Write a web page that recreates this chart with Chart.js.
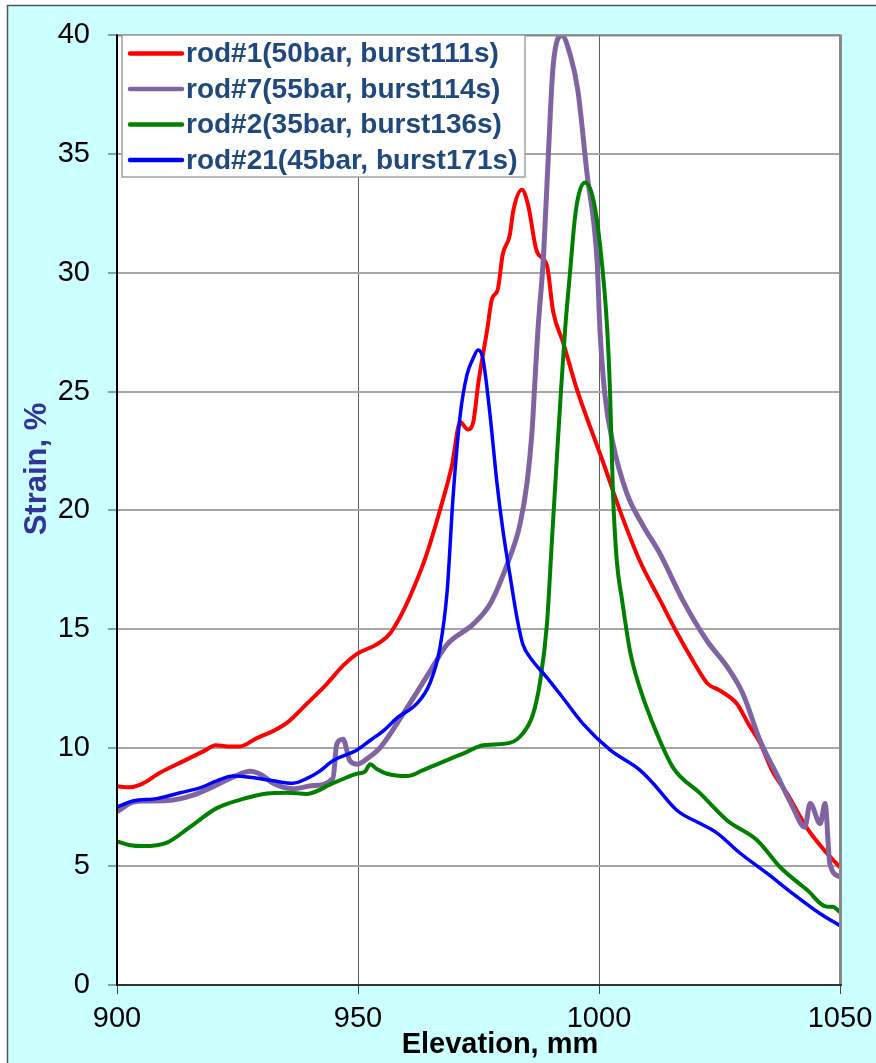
<!DOCTYPE html>
<html>
<head>
<meta charset="utf-8">
<script src="https://cdn.jsdelivr.net/npm/chart.js@4"></script>
<style>
    html, body { margin: 0; padding: 0; background: #ffffff; }
    #wrap { width: 876px; height: 1063px; }
</style>
</head>
<body>
<div id="wrap"><canvas id="strainChart" width="876" height="1063"></canvas></div>
<script>
// elevation (mm) / strain (%) profiles per rod
const rod1Elev = [900, 902.5, 905, 909, 914, 918, 920.5, 923, 925.5, 929, 932.4, 935.3, 939.4, 943.6, 946.9, 949.8, 953.9, 956.6, 959, 961.5, 964, 967, 969.5, 971.2, 972.8, 973.9, 975, 976.8, 977.8, 979, 980, 981.5, 982.2, 984, 985.3, 987.1, 989.2, 990.5, 992.5, 995.4, 998, 1000.8, 1004.5, 1008.5, 1012.7, 1016, 1019.5, 1022.5, 1025.1, 1028.6, 1031, 1033.4, 1036, 1039, 1043.2, 1047.3, 1050];
const rod1Strain = [8.37, 8.33, 8.45, 8.95, 9.45, 9.85, 10.1, 10.05, 10.05, 10.4, 10.7, 11.05, 11.85, 12.7, 13.45, 13.95, 14.35, 14.8, 15.6, 16.7, 18.0, 20.0, 21.9, 23.7, 23.4, 23.7, 25.4, 27.6, 28.9, 29.3, 30.75, 31.6, 32.6, 33.5, 32.85, 30.9, 30.3, 28.35, 27.1, 25.1, 23.6, 22.05, 19.9, 17.85, 16.2, 14.9, 13.65, 12.7, 12.4, 11.85, 11.0, 10.2, 9.0, 8.07, 6.6, 5.55, 4.96];

const rod7Elev = [900, 903.3, 906, 910.4, 915.8, 921.4, 924.5, 927.6, 930, 932.4, 936.5, 940.7, 944.8, 945.6, 946.9, 948.3, 949.8, 952, 954.6, 959.3, 964.9, 968.5, 973.9, 977.4, 980.9, 983.6, 985.1, 986.1, 986.7, 987.3, 988.5, 989.5, 990.5, 992.3, 994, 995.6, 997.5, 999.6, 1000.2, 1001.2, 1002.9, 1005.8, 1009, 1012.7, 1017.4, 1022.4, 1026.6, 1029.9, 1033.4, 1036.8, 1040.2, 1042.7, 1043.8, 1045.9, 1046.9, 1047.9, 1050];
const rod7Strain = [7.3, 7.7, 7.75, 7.77, 8.0, 8.5, 8.8, 9.0, 8.85, 8.5, 8.27, 8.4, 8.7, 10.15, 10.35, 9.45, 9.3, 9.55, 10.0, 11.4, 13.2, 14.35, 15.2, 16.05, 17.7, 19.4, 21.2, 23.3, 25.4, 27.5, 30.75, 35.0, 38.75, 40, 39.2, 37.7, 34.2, 30.5, 27.6, 24.9, 22.8, 20.7, 19.4, 18.15, 16.2, 14.5, 13.4, 12.25, 10.3, 8.9, 7.5, 6.65, 7.65, 6.8, 7.65, 5.1, 4.55];

const rod2Elev = [900, 902.5, 905.4, 910.4, 915.1, 920.7, 925.5, 931.1, 935.3, 939.4, 944.8, 949.8, 951.5, 952.5, 953.9, 956, 960.2, 963.5, 967, 971.8, 976, 981.5, 984.2, 986.3, 987.8, 989.2, 990.2, 991.2, 992.1, 993, 994, 995, 995.8, 997.1, 998.8, 1000.2, 1001.7, 1002.3, 1002.9, 1003.7, 1004.8, 1006.4, 1008.5, 1012, 1015.4, 1021, 1026.6, 1032.8, 1037.6, 1043.2, 1047.3, 1048.5, 1050];
const rod2Strain = [6.05, 5.9, 5.85, 6.0, 6.65, 7.45, 7.8, 8.07, 8.1, 8.05, 8.5, 8.9, 9.0, 9.3, 9.1, 8.9, 8.8, 9.05, 9.35, 9.75, 10.1, 10.2, 10.6, 11.4, 12.8, 15.2, 18.6, 22.0, 25.0, 27.7, 30.05, 32.3, 33.3, 33.8, 33.1, 31.2, 27.65, 24.9, 20.7, 17.85, 16.2, 14.1, 12.5, 10.6, 9.15, 8.07, 6.93, 6.1, 4.96, 4.0, 3.3, 3.3, 3.07];

const rod21Elev = [900, 903.3, 908.3, 913.1, 917.2, 920.7, 924.1, 927.6, 932.4, 936.5, 939.4, 942, 944.8, 949.8, 952.5, 955.5, 958.1, 962.2, 964.9, 967, 968.5, 969.7, 971.2, 972.6, 973.9, 974.9, 975.9, 977.4, 978.8, 980.1, 981.5, 983, 984.2, 985.7, 989.2, 992.5, 996.7, 1002.3, 1008.5, 1011.2, 1016.2, 1021, 1024.5, 1029.3, 1034.9, 1040.2, 1045.9, 1050];
const rod21Strain = [7.5, 7.75, 7.85, 8.1, 8.3, 8.6, 8.8, 8.75, 8.6, 8.5, 8.7, 9.0, 9.45, 9.9, 10.3, 10.75, 11.25, 11.85, 12.7, 14.2, 16.6, 20.5, 24.0, 25.7, 26.4, 26.75, 26.4, 24.0, 21.2, 19.1, 17.3, 15.45, 14.35, 13.8, 12.95, 12.1, 11.0, 9.9, 9.05, 8.5, 7.35, 6.8, 6.4, 5.55, 4.7, 3.85, 3.0, 2.5];

const seriesLabels = ['rod#1(50bar, burst111s)', 'rod#7(55bar, burst114s)', 'rod#2(35bar, burst136s)', 'rod#21(45bar, burst171s)'];
const elevationTicks = [900, 950, 1000, 1050];
const strainTicks = [0, 5, 10, 15, 20, 25, 30, 35, 40];

const FONT = "'Liberation Sans', Arial, sans-serif";

function toPoints(xs, ys) {
    return xs.map((x, i) => ({ x: x, y: ys[i] }));
}

function lineSet(label, points, color, width, order) {
    return {
        label: label,
        data: points,
        borderColor: color,
        backgroundColor: color,
        borderWidth: width,
        pointRadius: 0,
        cubicInterpolationMode: 'monotone',
        borderJoinStyle: 'round',
        borderCapStyle: 'round',
        fill: false,
        order: order
    };
}

// background, plot frame, axis titles and the boxed legend
const chartDecor = {
    id: 'chartDecor',
    beforeDraw(chart) {
        const ctx = chart.ctx;
        const a = chart.chartArea;
        ctx.save();
        ctx.fillStyle = '#ffffff';
        ctx.fillRect(0, 0, chart.width, chart.height);
        ctx.fillStyle = '#CCFFFF';
        ctx.fillRect(7, 5, chart.width - 7, chart.height - 5);
        ctx.strokeStyle = '#555555';
        ctx.lineWidth = 1.5;
        ctx.beginPath();
        ctx.moveTo(7.5, chart.height);
        ctx.lineTo(7.5, 5.5);
        ctx.lineTo(chart.width, 5.5);
        ctx.stroke();
        ctx.fillStyle = '#ffffff';
        ctx.fillRect(a.left, a.top, a.right - a.left, a.bottom - a.top);
        ctx.restore();
    },
    afterDatasetsDraw(chart) {
        const ctx = chart.ctx;
        const a = chart.chartArea;
        ctx.save();
        // top / right border
        ctx.strokeStyle = '#888888';
        ctx.lineWidth = 2;
        ctx.beginPath();
        ctx.moveTo(a.left, a.top);
        ctx.lineTo(a.right, a.top);
        ctx.stroke();
        ctx.lineWidth = 3;
        ctx.beginPath();
        ctx.moveTo(a.right + 0.5, a.top - 1);
        ctx.lineTo(a.right + 0.5, a.bottom);
        ctx.stroke();
        // axis lines
        ctx.strokeStyle = '#333333';
        ctx.lineWidth = 2;
        ctx.beginPath();
        ctx.moveTo(a.left, a.bottom);
        ctx.lineTo(a.right + 2, a.bottom);
        ctx.stroke();
        ctx.strokeStyle = '#000000';
        ctx.beginPath();
        ctx.moveTo(a.left, a.top - 1);
        ctx.lineTo(a.left, a.bottom + 1);
        ctx.stroke();
        ctx.restore();
    },
    afterDraw(chart) {
        const ctx = chart.ctx;
        ctx.save();

        // axis titles
        ctx.textAlign = 'center';
        ctx.textBaseline = 'middle';
        ctx.fillStyle = '#000000';
        ctx.font = 'bold 29px ' + FONT;
        ctx.fillText('Elevation, mm', 500, 1045);

        ctx.save();
        ctx.translate(37, 469);
        ctx.rotate(-Math.PI / 2);
        ctx.fillStyle = '#333399';
        ctx.font = 'bold 31px ' + FONT;
        ctx.fillText('Strain, %', 0, 0);
        ctx.restore();

        // legend box
        const boxL = 122, boxT = 35, boxR = 525, boxB = 177;
        ctx.fillStyle = '#ffffff';
        ctx.fillRect(boxL, boxT, boxR - boxL, boxB - boxT);
        ctx.strokeStyle = '#A0A0A0';
        ctx.lineWidth = 1.5;
        ctx.strokeRect(boxL, boxT, boxR - boxL, boxB - boxT);

        ctx.font = 'bold 28px ' + FONT;
        ctx.textAlign = 'left';
        ctx.textBaseline = 'middle';
        chart.data.datasets.forEach((ds, i) => {
            const y = 53.5 + i * 35.5;
            ctx.strokeStyle = ds.borderColor;
            ctx.lineWidth = 4.5;
            ctx.lineCap = 'round';
            ctx.beginPath();
            ctx.moveTo(130, y);
            ctx.lineTo(182, y);
            ctx.stroke();
            ctx.fillStyle = '#1F497D';
            ctx.fillText(ds.label, 186, y + 1);
        });
        ctx.restore();
    }
};

const config = {
    type: 'line',
    data: {
        datasets: [
            lineSet(seriesLabels[0], toPoints(rod1Elev, rod1Strain), '#FF0000', 4, 4),
            lineSet(seriesLabels[1], toPoints(rod7Elev, rod7Strain), '#8064A2', 5, 3),
            lineSet(seriesLabels[2], toPoints(rod2Elev, rod2Strain), '#008000', 4, 2),
            lineSet(seriesLabels[3], toPoints(rod21Elev, rod21Strain), '#0000FF', 3.5, 1)
        ]
    },
    options: {
        responsive: false,
        animation: false,
        layout: {
            padding: { top: 33, right: 36, left: 0, bottom: 0 }
        },
        scales: {
            x: {
                type: 'linear',
                min: 900,
                max: 1050,
                afterBuildTicks: (scale) => { scale.ticks = elevationTicks.map(v => ({ value: v })); },
                afterFit: (scale) => {
                    scale.height = 78;
                    // end labels may overhang the plot; layout padding already leaves room
                    scale.paddingLeft = 0;
                    scale.paddingRight = 0;
                },
                border: { display: false },
                grid: {
                    color: '#5f5f5f',
                    lineWidth: 1,
                    tickLength: 9,
                    tickColor: '#404040'
                },
                ticks: {
                    color: '#000000',
                    padding: 8,
                    maxRotation: 0,
                    font: { family: FONT, size: 29 },
                    callback: (value) => String(value)
                }
            },
            y: {
                type: 'linear',
                min: 0,
                max: 40,
                afterBuildTicks: (scale) => { scale.ticks = strainTicks.map(v => ({ value: v })); },
                afterFit: (scale) => { scale.width = 117; },
                border: { display: false },
                grid: {
                    color: '#A6A6A6',
                    lineWidth: 2,
                    tickLength: 9,
                    tickColor: '#404040',
                    tickWidth: 1
                },
                ticks: {
                    color: '#000000',
                    padding: 18,
                    font: { family: FONT, size: 29 },
                    callback: (value) => String(value)
                }
            }
        },
        plugins: {
            legend: { display: false },
            tooltip: { enabled: false }
        }
    },
    plugins: [chartDecor]
};

const chart = new Chart(document.getElementById('strainChart'), config);
</script>
</body>
</html>
